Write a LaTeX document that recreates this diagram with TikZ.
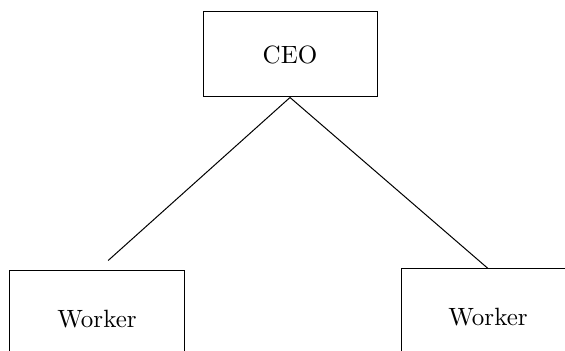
\documentclass[tikz,border=0pt]{standalone}
\usepackage{tikz}
\usetikzlibrary{positioning}

\begin{document}
\begin{tikzpicture}[
    x=0.4pt, y=-0.4pt,
    box/.style={rectangle, draw, minimum width=69.6pt, minimum height=34pt, align=center},
    worker/.style={box, minimum height=38.4pt},
    link/.style={thin}
]
\clip (0,0) rectangle (565,351);
\useasboundingbox (0,0) rectangle (565,351);

% Boxes
\node[box] (ceo) at (290,54.5) {CEO};
\node[worker] (w1) at (97,319) {Worker};
\node[worker] (w2) at (488,317) {Worker};

% Lines
\draw[link, shorten >=6pt] (ceo.south) -- (w1.north);
\draw[link] (ceo.south) -- (w2.north);

\end{tikzpicture}
\end{document}
